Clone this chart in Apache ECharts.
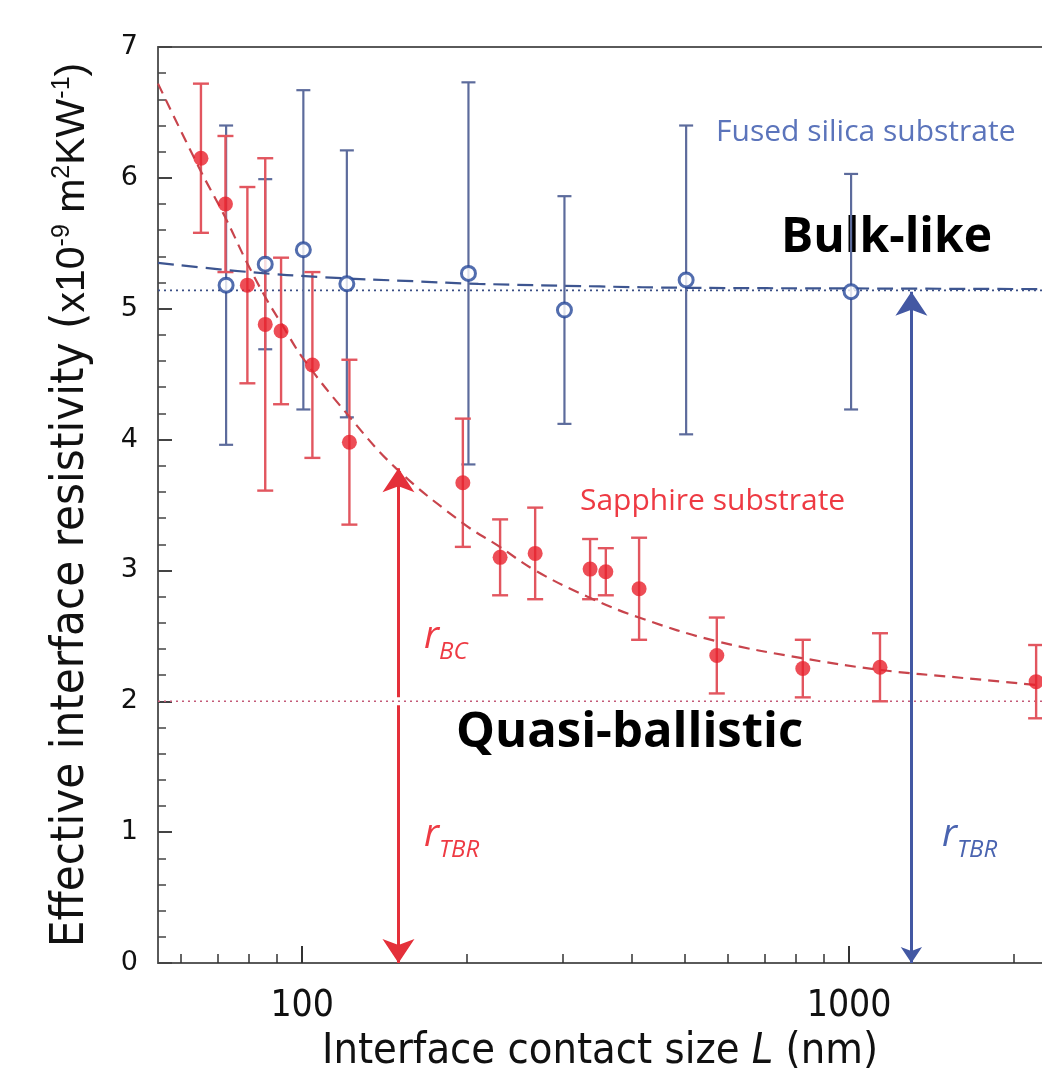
<!DOCTYPE html>
<html>
<head>
<meta charset="utf-8">
<script src="https://cdn.jsdelivr.net/npm/echarts@6/dist/echarts.min.js"></script>
<style>
  html, body { margin: 0; padding: 0; background: #fff; }
  #main { width: 1042px; height: 1072px; }
</style>
</head>
<body>
<div id="main"></div>
<script>
// sapphire substrate (red, filled)
var sapphireL   = [65.3, 72.4, 79.4, 85.6, 91.5, 104.4, 122.0, 196.7, 230.1, 266.7, 336.1, 359.1, 413.1, 573, 823, 1139, 2198];
var sapphireR   = [6.15, 5.80, 5.18, 4.88, 4.83, 4.57, 3.98, 3.67, 3.10, 3.13, 3.01, 2.99, 2.86, 2.35, 2.25, 2.26, 2.15];
var sapphireErr = [0.57, 0.52, 0.75, 1.27, 0.56, 0.71, 0.63, 0.49, 0.29, 0.35, 0.23, 0.18, 0.39, 0.29, 0.22, 0.26, 0.28];

// fused silica substrate (blue, open)
var silicaL   = [72.6, 85.6, 100.5, 120.7, 201.4, 301.7, 503.6, 1008.5];
var silicaR   = [5.18, 5.34, 5.45, 5.19, 5.27, 4.99, 5.22, 5.13];
var silicaErr = [1.22, 0.65, 1.22, 1.02, 1.46, 0.87, 1.18, 0.90];

// fitted curves
var sapphireFitL = [54.5, 65.1, 72.3, 79.3, 85.6, 91.5, 100.4, 120.6, 148.5, 196.9, 228, 266.7, 332, 413, 571, 820, 1139, 1600, 2253];
var sapphireFitR = [6.72, 6.06, 5.70, 5.35, 5.09, 4.89, 4.62, 4.20, 3.78, 3.36, 3.19, 3.00, 2.80, 2.64, 2.46, 2.33, 2.24, 2.18, 2.12];
var silicaFitL = [54.5, 80, 110, 160, 210, 350, 500, 1000, 2253];
var silicaFitR = [5.35, 5.28, 5.24, 5.21, 5.19, 5.17, 5.16, 5.155, 5.15];

// limits
var rBulk = 5.14;
var rTBR = 2.0;
var xRange = [54.5, 2253];
var arrowRedL = 150, arrowRedTop = 3.78;
var arrowBlueL = 1300, arrowBlueTop = 5.13;

var xMajor = [100, 1000];
var xMinor = [60, 70, 80, 90, 200, 300, 400, 500, 600, 700, 800, 900, 2000];

function pairs(a, b) {
  var out = [];
  for (var i = 0; i < a.length; i++) out.push([a[i], b[i]]);
  return out;
}
function triples(a, b, c) {
  var out = [];
  for (var i = 0; i < a.length; i++) out.push([a[i], b[i], c[i]]);
  return out;
}

function errBar(color, width, cap) {
  return function (params, api) {
    var x = api.value(0), y = api.value(1), e = api.value(2);
    var t = api.coord([x, y + e]);
    var b = api.coord([x, y - e]);
    var h = cap / 2;
    var st = { stroke: color, lineWidth: width };
    return {
      type: 'group',
      children: [
        { type: 'line', shape: { x1: t[0], y1: t[1], x2: b[0], y2: b[1] }, style: st },
        { type: 'line', shape: { x1: t[0] - h, y1: t[1], x2: t[0] + h, y2: t[1] }, style: st },
        { type: 'line', shape: { x1: b[0] - h, y1: b[1], x2: b[0] + h, y2: b[1] }, style: st }
      ]
    };
  };
}

// r with a subscript, e.g. r_BC
function subLabel(sub, color) {
  return {
    text: '{r|r}{s|' + sub + '}',
    rich: {
      r: { fontFamily: '"Open Sans", sans-serif', fontStyle: 'italic', fontSize: 38, fill: color, lineHeight: 46, verticalAlign: 'top' },
      s: { fontFamily: '"Open Sans", sans-serif', fontStyle: 'italic', fontSize: 24, fill: color, lineHeight: 46, verticalAlign: 'bottom' }
    }
  };
}

var axisGray = '#5a5a5a';
var narrow = '"Liberation Sans Narrow", "DejaVu Sans Condensed", sans-serif';
var plain = '"Liberation Sans", Arial, sans-serif';

var chart = echarts.init(document.getElementById('main'));
var option = {
  animation: false,
  backgroundColor: '#fff',
  grid: { left: 158, top: 47, right: 0, bottom: 109, outerBoundsMode: 'none' },
  xAxis: [{
    type: 'log',
    min: xRange[0],
    max: xRange[1],
    name: 'Interface contact size {i|L} (nm)',
    nameLocation: 'middle',
    nameGap: 66,
    nameTextStyle: {
      fontFamily: narrow, fontSize: 43, color: '#111',
      rich: { i: { fontFamily: narrow, fontSize: 43, fontStyle: 'italic', color: '#111' } }
    },
    axisLine: { lineStyle: { color: axisGray, width: 2 } },
    axisTick: { inside: true, length: 17, customValues: xMajor, lineStyle: { color: '#333', width: 2 } },
    axisLabel: {
      customValues: xMajor, margin: 25, fontFamily: narrow, fontSize: 37, color: '#111',
      formatter: function (v) { return String(Math.round(v)); }
    },
    splitLine: { show: false }
  }, {
    type: 'log',
    min: xRange[0],
    max: xRange[1],
    position: 'bottom',
    axisLine: { show: false },
    axisTick: { inside: true, length: 9, customValues: xMinor, lineStyle: { color: '#333', width: 1.5 } },
    axisLabel: { show: false },
    splitLine: { show: false }
  }, {
    type: 'log',
    min: xRange[0],
    max: xRange[1],
    position: 'top',
    axisLine: { lineStyle: { color: axisGray, width: 2 } },
    axisTick: { show: false },
    axisLabel: { show: false },
    splitLine: { show: false }
  }],
  yAxis: {
    type: 'value',
    min: 0,
    max: 7,
    interval: 1,
    name: '{a|Effective interface resistivity (}{b|x10}{s|-9}{b| m}{s|2}{b|KW}{s|-1}{b|)}',
    nameLocation: 'middle',
    nameRotate: 90,
    nameGap: 64,
    nameTextStyle: {
      rich: {
        a: { fontFamily: narrow, fontSize: 47, color: '#111', lineHeight: 48, verticalAlign: 'bottom' },
        b: { fontFamily: plain, fontSize: 41, color: '#111', lineHeight: 48, verticalAlign: 'bottom', padding: [0, 0, 1, 0] },
        s: { fontFamily: plain, fontSize: 25, color: '#111', lineHeight: 48, verticalAlign: 'top', padding: [4, 0, 0, 0] }
      }
    },
    axisLine: { show: true, lineStyle: { color: axisGray, width: 2 } },
    axisTick: { inside: true, length: 14, lineStyle: { color: '#444', width: 2 } },
    minorTick: { show: true, splitNumber: 5, length: 8, lineStyle: { color: '#444', width: 1.5 } },
    axisLabel: { margin: 20, fontFamily: '"DejaVu Sans", sans-serif', fontSize: 27, color: '#111' },
    splitLine: { show: false },
    minorSplitLine: { show: false }
  },
  series: [
    // reference levels
    {
      type: 'line', symbol: 'none', silent: true, z: 1,
      data: [[xRange[0], rBulk], [xRange[1], rBulk]],
      lineStyle: { color: '#3b4f86', width: 1.6, type: [2, 4] }
    },
    {
      type: 'line', symbol: 'none', silent: true, z: 1,
      data: [[xRange[0], rTBR], [xRange[1], rTBR]],
      lineStyle: { color: '#c45a78', width: 1.6, type: [2, 4] }
    },
    // error bars
    {
      type: 'custom', z: 2,
      renderItem: errBar('#5c6b9c', 2.2, 14),
      encode: { x: 0, y: 1 },
      data: triples(silicaL, silicaR, silicaErr)
    },
    {
      type: 'custom', z: 3,
      renderItem: errBar('#e2565f', 2.4, 16),
      encode: { x: 0, y: 1 },
      data: triples(sapphireL, sapphireR, sapphireErr)
    },
    // fits
    {
      type: 'line', symbol: 'none', smooth: 0.4, z: 4,
      data: pairs(silicaFitL, silicaFitR),
      lineStyle: { color: '#3d5590', width: 2.2, type: [16, 8] }
    },
    {
      type: 'line', symbol: 'none', smooth: 0.4, z: 4,
      data: pairs(sapphireFitL, sapphireFitR),
      lineStyle: { color: '#c8444c', width: 2.2, type: [11, 7] }
    },
    // arrows
    {
      type: 'lines', coordinateSystem: 'cartesian2d', z: 5,
      symbol: ['none', 'arrow'], symbolSize: [16, 24],
      lineStyle: { color: '#e4303a', width: 3, opacity: 1 },
      data: [
        { coords: [[arrowRedL, rTBR + 0.03], [arrowRedL, arrowRedTop]] },
        { coords: [[arrowRedL, rTBR - 0.03], [arrowRedL, 0]] }
      ]
    },
    {
      type: 'lines', coordinateSystem: 'cartesian2d', z: 5,
      symbol: ['arrow', 'arrow'], symbolSize: [16, 24],
      lineStyle: { color: '#4358a3', width: 3, opacity: 1 },
      data: [{ coords: [[arrowBlueL, 0], [arrowBlueL, arrowBlueTop]] }]
    },
    // markers
    {
      type: 'scatter', z: 6,
      symbol: 'circle', symbolSize: 14,
      itemStyle: { color: '#fff', borderColor: '#27489a', borderWidth: 3 },
      data: pairs(silicaL, silicaR)
    },
    {
      type: 'scatter', z: 6,
      symbol: 'circle', symbolSize: 15,
      itemStyle: { color: '#e8202c' },
      data: pairs(sapphireL, sapphireR)
    }
  ],
  graphic: [
    { type: 'text', left: 716, top: 117, style: { text: 'Fused silica substrate', fontFamily: '"Open Sans", sans-serif', fontSize: 30, fill: '#5b74bb' } },
    { type: 'text', left: 781, top: 214, style: { text: 'Bulk-like', fontFamily: '"Open Sans", sans-serif', fontWeight: 'bold', fontSize: 48, fill: '#000' } },
    { type: 'text', left: 580, top: 486, style: { text: 'Sapphire substrate', fontFamily: '"Open Sans", sans-serif', fontSize: 30, fill: '#ee3a43' } },
    { type: 'text', left: 456, top: 709, style: { text: 'Quasi-ballistic', fontFamily: '"Open Sans", sans-serif', fontWeight: 'bold', fontSize: 49, fill: '#000' } },
    { type: 'text', left: 424, top: 618, style: subLabel('BC', '#ee3a43') },
    { type: 'text', left: 424, top: 816, style: subLabel('TBR', '#ee3a43') },
    { type: 'text', left: 942, top: 816, style: subLabel('TBR', '#4a64b0') }
  ]
};
chart.setOption(option);
</script>
</body>
</html>
